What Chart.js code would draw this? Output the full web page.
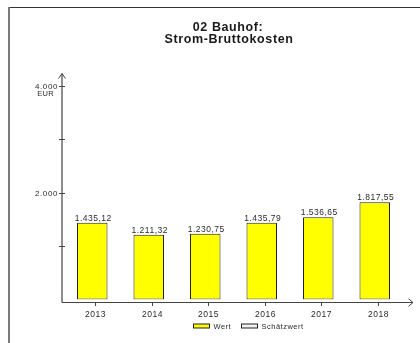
<!DOCTYPE html>
<html>
<head>
<meta charset="utf-8">
<script src="https://cdn.jsdelivr.net/npm/chart.js@4/dist/chart.umd.min.js"></script>
<style>
  html, body { margin: 0; padding: 0; background: #fff; }
  #wrap { width: 420px; height: 343px; position: relative; }
</style>
</head>
<body>
<div id="wrap"><canvas id="c" width="420" height="343"></canvas></div>
<script>
// Strom-Bruttokosten Bauhof, Jahreswerte in EUR
const years = ['2013', '2014', '2015', '2016', '2017', '2018'];
const wert = [1435.12, 1211.32, 1230.75, 1435.79, 1536.65, 1817.55];
const yTicks = [1000, 2000, 3000, 4000];
const yTickLabels = { 2000: '2.000', 4000: '4.000' };
const legendLabels = ['Wert', 'Schätzwert'];
const legendColors = ['#ffff00', '#f2f2f2'];
const titleLines = ['02 Bauhof:', 'Strom-Bruttokosten'];
const unitLabel = 'EUR';

// German number format: 1.435,12
function fmtDE(v) {
  const [i, d] = v.toFixed(2).split('.');
  return i.replace(/\B(?=(\d{3})+(?!\d))/g, '.') + ',' + d;
}

const FONT = '"Liberation Sans", Arial, sans-serif';
const SMALL = '8.5px ' + FONT;
const TEXT = '#2a2a2a';
const AXIS = '#444';

const decorPlugin = {
  id: 'decor',
  afterDatasetsDraw(chart) {
    const ctx = chart.ctx;
    const meta = chart.getDatasetMeta(0);
    ctx.save();
    ctx.font = SMALL;
    ctx.letterSpacing = '0.5px';
    ctx.fillStyle = TEXT;
    ctx.textAlign = 'center';
    ctx.textBaseline = 'alphabetic';
    meta.data.forEach((bar, i) => {
      ctx.fillText(fmtDE(wert[i]), bar.x + 1, bar.y - 2);
    });
    ctx.restore();
  },
  afterDraw(chart) {
    const ctx = chart.ctx;
    const area = chart.chartArea;
    const x = chart.scales.x;
    const y = chart.scales.y;
    ctx.save();

    // frame
    ctx.strokeStyle = '#333';
    ctx.lineWidth = 1;
    ctx.beginPath();
    ctx.moveTo(8, 7.5); ctx.lineTo(420, 7.5);
    ctx.stroke();
    ctx.strokeStyle = '#7a7a7a';
    ctx.lineWidth = 2;
    ctx.beginPath();
    ctx.moveTo(9, 7); ctx.lineTo(9, 343);
    ctx.stroke();

    // title
    ctx.fillStyle = '#1a1a1a';
    ctx.font = 'bold 12.5px ' + FONT;
    ctx.letterSpacing = '0.6px';
    ctx.textAlign = 'center';
    ctx.textBaseline = 'alphabetic';
    ctx.fillText(titleLines[0], 228, 30.5);
    ctx.fillText(titleLines[1], 229, 43);

    // axes
    const axX = 62;
    const axY = area.bottom + 3;
    ctx.strokeStyle = AXIS;
    ctx.lineWidth = 1.2;
    ctx.beginPath();
    ctx.moveTo(axX, axY); ctx.lineTo(axX, 73.5);
    ctx.moveTo(axX, axY); ctx.lineTo(413, axY);
    ctx.stroke();
    ctx.lineWidth = 1;
    ctx.beginPath();
    // arrow heads
    ctx.moveTo(axX - 3.5, 78.5); ctx.lineTo(axX, 73.5); ctx.lineTo(axX + 3.5, 78.5);
    ctx.moveTo(408.5, axY - 3.8); ctx.lineTo(413, axY); ctx.lineTo(408.5, axY + 3.8);
    ctx.stroke();

    // y ticks and labels
    ctx.font = '8px ' + FONT;
    ctx.letterSpacing = '0.6px';
    ctx.fillStyle = TEXT;
    ctx.lineWidth = 1;
    yTicks.forEach(v => {
      const py = Math.round(y.getPixelForValue(v)) + 0.5;
      ctx.beginPath();
      ctx.moveTo(axX - 3, py); ctx.lineTo(axX + 3, py);
      ctx.stroke();
      if (yTickLabels[v]) {
        ctx.textAlign = 'right';
        ctx.textBaseline = 'middle';
        ctx.fillText(yTickLabels[v], axX - 4, py);
      }
    });
    ctx.textAlign = 'center';
    ctx.textBaseline = 'middle';
    ctx.font = '7.5px ' + FONT;
    ctx.letterSpacing = '0.3px';
    ctx.fillText(unitLabel, 45.5, Math.round(y.getPixelForValue(4000)) + 7.5);

    // x ticks and labels
    ctx.font = SMALL;
    ctx.letterSpacing = '0.5px';
    years.forEach((yr, i) => {
      const px = Math.round(x.getPixelForValue(i)) + 3.5;
      ctx.beginPath();
      ctx.moveTo(px, axY); ctx.lineTo(px, axY + 3.5);
      ctx.stroke();
      ctx.textAlign = 'center';
      ctx.textBaseline = 'alphabetic';
      ctx.fillText(yr, px, axY + 14);
    });

    // legend
    ctx.font = '7.5px ' + FONT;
    ctx.letterSpacing = '0.5px';
    ctx.textAlign = 'left';
    ctx.textBaseline = 'middle';
    const ly = axY + 23.5;
    const lx = [193.5, 241.5];
    legendLabels.forEach((lab, i) => {
      ctx.fillStyle = legendColors[i];
      ctx.fillRect(lx[i], ly - 2, 16, 4);
      ctx.strokeStyle = '#222';
      ctx.lineWidth = 1;
      ctx.strokeRect(lx[i], ly - 2, 16, 4);
      ctx.fillStyle = TEXT;
      ctx.fillText(lab, lx[i] + 20, ly + 0.5);
    });

    ctx.restore();
  }
};

new Chart(document.getElementById('c'), {
  type: 'bar',
  data: {
    labels: years,
    datasets: [{
      label: legendLabels[0],
      data: wert,
      backgroundColor: legendColors[0],
      borderColor: '#222',
      borderWidth: 1,
      borderSkipped: false,
      categoryPercentage: 1,
      barPercentage: 0.54
    }]
  },
  options: {
    responsive: false,
    animation: false,
    devicePixelRatio: 1,
    layout: { padding: { left: 64, right: 17, top: 85.5, bottom: 43.5 } },
    plugins: {
      legend: { display: false },
      title: { display: false },
      tooltip: { enabled: false }
    },
    scales: {
      x: { display: false },
      y: { display: false, min: 0, max: 4000 }
    }
  },
  plugins: [decorPlugin]
});
</script>
</body>
</html>
